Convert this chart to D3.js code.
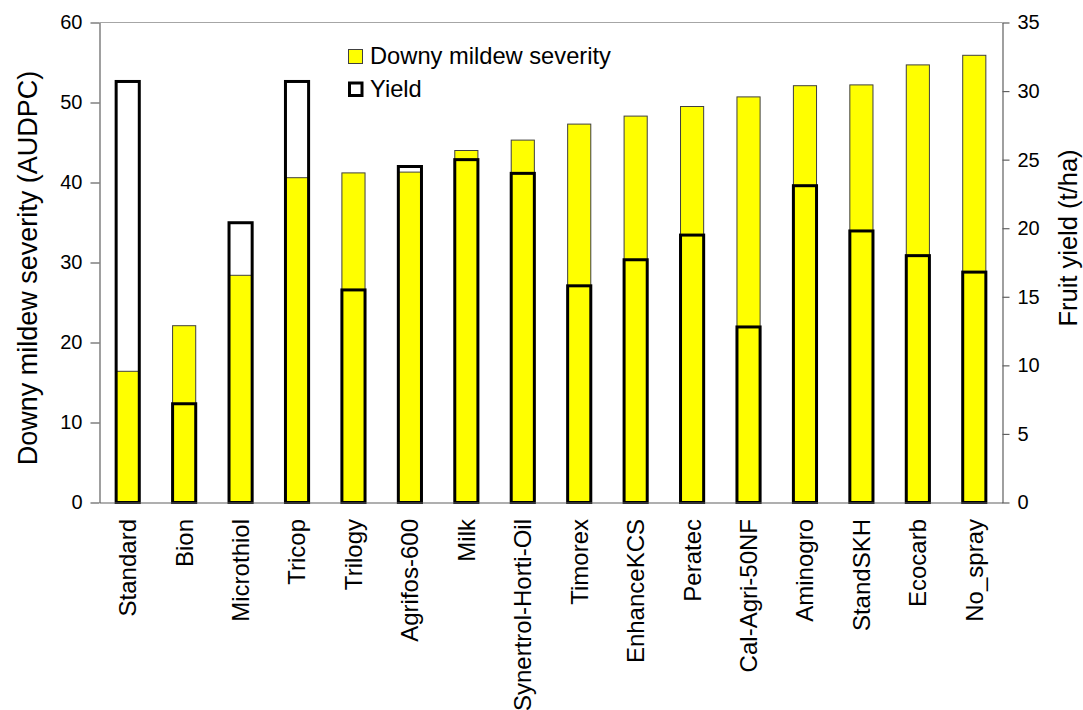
<!DOCTYPE html>
<html>
<head>
<meta charset="utf-8">
<script src="https://cdn.jsdelivr.net/npm/d3@7"></script>
<style>
  html, body { margin: 0; padding: 0; background: #fff; }
  svg { display: block; font-family: "Liberation Sans", Arial, sans-serif; }
</style>
</head>
<body>
<svg id="chart" width="1083" height="710"></svg>
<script>
const categories = ["Standard","Bion","Microthiol","Tricop","Trilogy","Agrifos-600","Milk","Synertrol-Horti-Oil","Timorex","EnhanceKCS","Peratec","Cal-Agri-50NF","Aminogro","StandSKH","Ecocarb","No_spray"];
const severity = [16.4, 22.1, 28.4, 40.6, 41.2, 41.3, 44.0, 45.3, 47.3, 48.3, 49.5, 50.7, 52.1, 52.2, 54.7, 55.9];
const yieldVals = [30.7, 7.2, 20.4, 30.7, 15.5, 24.5, 25.0, 24.0, 15.8, 17.7, 19.5, 12.8, 23.1, 19.8, 18.0, 16.8];
const leftTicks = [0, 10, 20, 30, 40, 50, 60];
const rightTicks = [0, 5, 10, 15, 20, 25, 30, 35];
const legendLabels = ["Downy mildew severity", "Yield"];
const leftTitle = "Downy mildew severity (AUDPC)";
const rightTitle = "Fruit yield (t/ha)";

const svg = d3.select("#chart");
const X0 = 99.5, X1 = 1002.5, YT = 22.5, YB = 502.5;

const x = d3.scaleBand().domain(categories).range([X0, X1]).paddingInner(0.59).paddingOuter(0.295);
const yL = d3.scaleLinear().domain([0, 60]).range([YB, YT]);
const yR = d3.scaleLinear().domain([0, 35]).range([YB, YT]);

// top border line
svg.append("line").attr("x1", X0).attr("x2", X1).attr("y1", YT).attr("y2", YT)
  .attr("stroke", "#a6a6a6").attr("stroke-width", 1);

// severity bars
svg.append("g").selectAll("rect").data(categories).join("rect")
  .attr("x", d => x(d))
  .attr("width", x.bandwidth())
  .attr("y", (d, i) => yL(severity[i]))
  .attr("height", (d, i) => YB - yL(severity[i]))
  .attr("fill", "#ffff00")
  .attr("stroke", "#404040")
  .attr("stroke-width", 1);

// yield bars (outline)
svg.append("g").selectAll("rect").data(categories).join("rect")
  .attr("x", d => x(d))
  .attr("width", x.bandwidth())
  .attr("y", (d, i) => yR(yieldVals[i]))
  .attr("height", (d, i) => YB - yR(yieldVals[i]))
  .attr("fill", "none")
  .attr("stroke", "#000")
  .attr("stroke-width", 3);

// axes
const axL = svg.append("g").attr("transform", `translate(${X0},0)`)
  .call(d3.axisLeft(yL).tickValues(leftTicks).tickSize(9).tickPadding(8).tickSizeOuter(0));
const axR = svg.append("g").attr("transform", `translate(${X1},0)`)
  .call(d3.axisRight(yR).tickValues(rightTicks).tickSize(7).tickPadding(8).tickSizeOuter(0));
[axL, axR].forEach(a => {
  a.selectAll("path, line").attr("stroke", "#606060").attr("stroke-width", 1.2);
  a.selectAll("text").attr("font-size", 20).attr("fill", "#000")
    .style("font-family", '"Liberation Sans", Arial, sans-serif');
});

// bottom axis
const axB = svg.append("g").attr("transform", `translate(0,${YB})`)
  .call(d3.axisBottom(x).tickSize(0).tickSizeOuter(0).tickFormat(""));
axB.select("path").attr("stroke", "#606060").attr("stroke-width", 1.2);

// category labels
svg.append("g").selectAll("text").data(categories).join("text")
  .attr("transform", d => `translate(${x(d) + x.bandwidth() / 2},519) rotate(-90)`)
  .attr("text-anchor", "end")
  .attr("dy", "0.35em")
  .attr("font-size", 24)
  .attr("fill", "#000")
  .text(d => d);

// axis titles
svg.append("text")
  .attr("transform", `translate(36.5,268) rotate(-90)`)
  .attr("text-anchor", "middle")
  .attr("font-size", 27)
  .text(leftTitle);
svg.append("text")
  .attr("transform", `translate(1077,238) rotate(-90)`)
  .attr("text-anchor", "middle")
  .attr("font-size", 25.5)
  .text(rightTitle);

// legend
const lg = svg.append("g");
lg.append("rect").attr("x", 348.5).attr("y", 49.5).attr("width", 14).attr("height", 14)
  .attr("fill", "#ffff00").attr("stroke", "#404040").attr("stroke-width", 1);
lg.append("rect").attr("x", 349.5).attr("y", 83).attr("width", 12.5).attr("height", 12.5)
  .attr("fill", "none").attr("stroke", "#000").attr("stroke-width", 3);
lg.selectAll("text").data(legendLabels).join("text")
  .attr("x", 370)
  .attr("y", (d, i) => 64 + i * 33)
  .attr("font-size", 23.7)
  .attr("fill", "#000")
  .text(d => d);
</script>
</body>
</html>
